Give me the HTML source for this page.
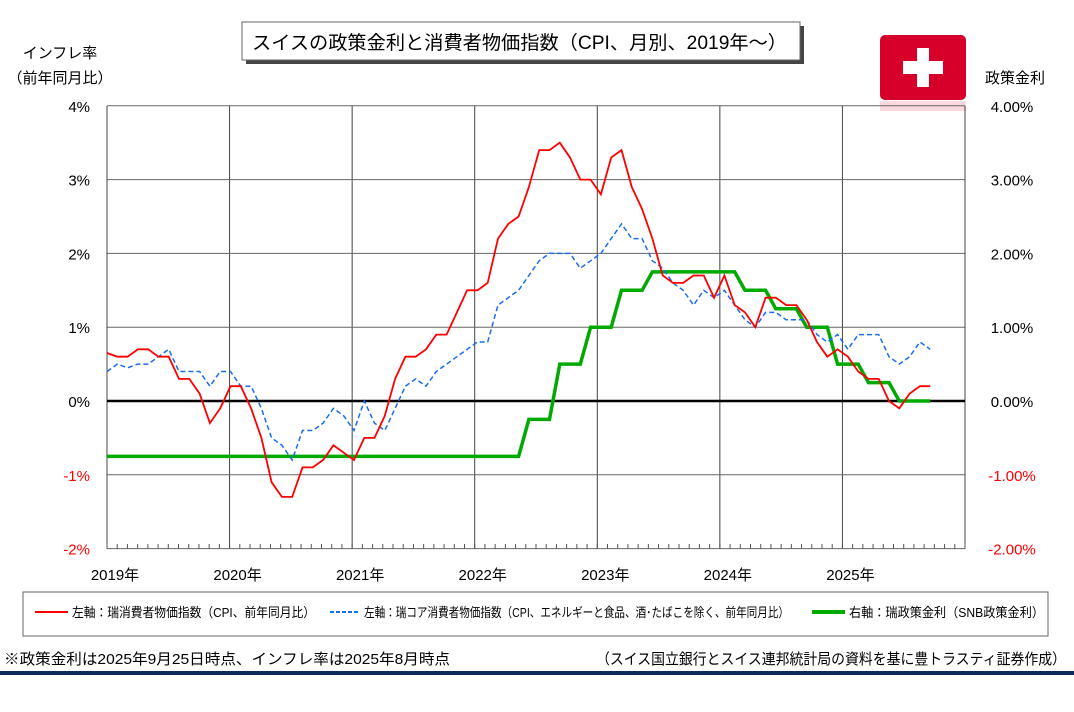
<!DOCTYPE html>
<html><head><meta charset="utf-8">
<style>
body{margin:0;background:#fff;width:1074px;height:707px;overflow:hidden;font-family:"Liberation Sans","Noto Sans CJK JP",sans-serif}
</style></head><body>
<svg id="s" width="1074" height="707" xmlns="http://www.w3.org/2000/svg" font-family="Liberation Sans, Noto Sans CJK JP, sans-serif">
<rect x="246" y="26" width="558" height="38" fill="#444"/>
<rect x="242" y="22" width="558" height="38" fill="#fff" stroke="#666" stroke-width="1"/>
<text x="252" y="49" font-size="19" textLength="535" lengthAdjust="spacingAndGlyphs" fill="#000">スイスの政策金利と消費者物価指数（CPI、月別、2019年～）</text>
<text x="60" y="58" font-size="15" text-anchor="middle">インフレ率</text>
<text x="60" y="83" font-size="15" text-anchor="middle">（前年同月比）</text>
<text x="1015" y="83" font-size="15" text-anchor="middle">政策金利</text>
<rect x="880" y="35" width="86" height="65" rx="5" fill="#d6002a"/>
<rect x="880" y="101" width="86" height="10" fill="#f6c0c8" opacity="0.6"/>
<rect x="917" y="48" width="12" height="39" fill="#fff"/>
<rect x="903" y="61" width="40" height="13" fill="#fff"/>
<g id="grid"></g>
<g id="series"></g>
<rect x="23" y="592" width="1025" height="44" fill="#fff" stroke="#666"/>
<line x1="35" y1="612" x2="68" y2="612" stroke="#f00" stroke-width="2"/>
<text x="72" y="617" font-size="13" textLength="243" lengthAdjust="spacingAndGlyphs">左軸：瑞消費者物価指数（CPI、前年同月比）</text>
<line x1="330" y1="612" x2="360" y2="612" stroke="#1a6cf0" stroke-width="2" stroke-dasharray="4,2"/>
<text x="364" y="617" font-size="13" textLength="425" lengthAdjust="spacingAndGlyphs">左軸：瑞コア消費者物価指数（CPI、エネルギーと食品、酒･たばこを除く、前年同月比）</text>
<line x1="812" y1="612" x2="845" y2="612" stroke="#0a0" stroke-width="4"/>
<text x="849" y="617" font-size="13" textLength="195" lengthAdjust="spacingAndGlyphs">右軸：瑞政策金利（SNB政策金利）</text>
<text x="4" y="664" font-size="15" textLength="446" lengthAdjust="spacingAndGlyphs">※政策金利は2025年9月25日時点、インフレ率は2025年8月時点</text>
<text x="596" y="664" font-size="15" textLength="470" lengthAdjust="spacingAndGlyphs">（スイス国立銀行とスイス連邦統計局の資料を基に豊トラスティ証券作成）</text>
<rect x="0" y="671" width="1074" height="4" fill="#0d2a5c"/>
</svg>
<script>
var X0=107,X1=965,YT=106,YB=549;
function y(v){return 401-v*73.8;}
function x(i){return X0+i*10.29;}
var g='';
for(var k=0;k<=7;k++){var xx=X0+k*(X1-X0)/7;g+='<line x1="'+xx+'" y1="'+YT+'" x2="'+xx+'" y2="'+YB+'" stroke="#444" stroke-width="1"/>';
 if(k<7)g+='<text x="'+(xx+8)+'" y="580" font-size="15" text-anchor="middle">'+(2019+k)+'年</text>';}
for(var v=-2;v<=4;v++){var yy=y(v);g+='<line x1="'+X0+'" y1="'+yy+'" x2="'+X1+'" y2="'+yy+'" stroke="#666" stroke-width="1"/>';
 var c=v<0?'#f00':'#000';g+='<text x="90" y="'+(yy+6)+'" font-size="15" fill="'+c+'" text-anchor="end">'+v+'%</text>';
 g+='<text x="1012" y="'+(yy+6)+'" font-size="15" fill="'+c+'" text-anchor="middle">'+v.toFixed(2)+'%</text>';}
g+='<line x1="'+X0+'" y1="'+YT+'" x2="'+X0+'" y2="'+YB+'" stroke="#444"/><line x1="'+X1+'" y1="'+YT+'" x2="'+X1+'" y2="'+YB+'" stroke="#444"/>';
for(var m=0;m<=84;m++){var xm=X0+m*(X1-X0)/84;g+='<line x1="'+xm+'" y1="'+YB+'" x2="'+xm+'" y2="'+(YB-5)+'" stroke="#555"/>';}
g+='<line x1="'+X0+'" y1="'+y(0)+'" x2="'+X1+'" y2="'+y(0)+'" stroke="#000" stroke-width="2.5"/>';
document.getElementById('grid').innerHTML=g;
var cpi=[0.65,0.6,0.6,0.7,0.7,0.6,0.6,0.3,0.3,0.1,-0.3,-0.1,0.2,0.2,-0.1,-0.5,-1.1,-1.3,-1.3,-0.9,-0.9,-0.8,-0.6,-0.7,-0.8,-0.5,-0.5,-0.2,0.3,0.6,0.6,0.7,0.9,0.9,1.2,1.5,1.5,1.6,2.2,2.4,2.5,2.9,3.4,3.4,3.5,3.3,3.0,3.0,2.8,3.3,3.4,2.9,2.6,2.2,1.7,1.6,1.6,1.7,1.7,1.4,1.7,1.3,1.2,1.0,1.4,1.4,1.3,1.3,1.1,0.8,0.6,0.7,0.6,0.4,0.3,0.3,0.0,-0.1,0.1,0.2,0.2];
var core=[0.4,0.5,0.45,0.5,0.5,0.6,0.7,0.4,0.4,0.4,0.2,0.4,0.4,0.2,0.2,-0.1,-0.5,-0.6,-0.8,-0.4,-0.4,-0.3,-0.1,-0.2,-0.4,0.0,-0.3,-0.4,-0.1,0.2,0.3,0.2,0.4,0.5,0.6,0.7,0.8,0.8,1.3,1.4,1.5,1.7,1.9,2.0,2.0,2.0,1.8,1.9,2.0,2.2,2.4,2.2,2.2,1.9,1.8,1.6,1.5,1.3,1.5,1.4,1.5,1.3,1.1,1.0,1.2,1.2,1.1,1.1,1.1,0.9,0.8,0.9,0.7,0.9,0.9,0.9,0.6,0.5,0.6,0.8,0.7];
function path(a,off){var p='';for(var i=0;i<a.length;i++)p+=(i?'L':'M')+x(i+off).toFixed(1)+','+y(a[i]).toFixed(1);return p;}
var pol=[];for(var i=0;i<=40;i++)pol.push(-0.75);
var steps=[[-0.25,3],[0.5,3],[1.0,3],[1.5,3],[1.75,9],[1.5,3],[1.25,3],[1.0,3],[0.5,3],[0.25,3],[0,4]];
steps.forEach(function(s){for(var j=0;j<s[1];j++)pol.push(s[0]);});
var h='<path d="'+path(pol,0)+'" fill="none" stroke="#0a0" stroke-width="3.5"/>';
h+='<path d="'+path(core,0)+'" fill="none" stroke="#1a6cf0" stroke-width="1.5" stroke-dasharray="5,3"/>';
h+='<path d="'+path(cpi,0)+'" fill="none" stroke="#f00" stroke-width="1.8"/>';
document.getElementById('series').innerHTML=h;
</script>
</body></html>
